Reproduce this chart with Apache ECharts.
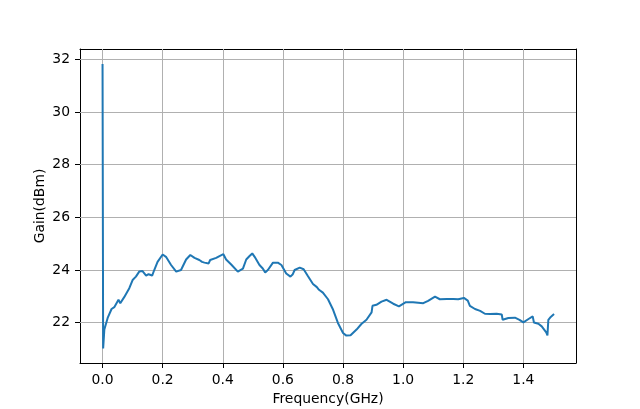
<!DOCTYPE html>
<html>
<head>
<meta charset="utf-8">
<script src="https://cdn.jsdelivr.net/npm/echarts@6/dist/echarts.min.js"></script>
<style>html,body{margin:0;padding:0;background:#fff}#c{width:640px;height:409px}</style>
</head>
<body>
<div id="c"></div>
<script>
const freq = [0,0.002,0.006,0.017,0.03,0.039,0.053,0.059,0.072,0.089,0.1,0.111,0.122,0.133,0.145,0.153,0.165,0.172,0.183,0.2,0.211,0.228,0.245,0.261,0.278,0.292,0.306,0.322,0.331,0.339,0.353,0.358,0.378,0.389,0.402,0.411,0.428,0.45,0.467,0.478,0.489,0.498,0.506,0.522,0.533,0.541,0.55,0.567,0.583,0.595,0.611,0.625,0.633,0.639,0.656,0.669,0.683,0.7,0.713,0.72,0.733,0.75,0.767,0.783,0.8,0.811,0.825,0.845,0.861,0.878,0.895,0.898,0.911,0.928,0.945,0.967,0.986,1.009,1.033,1.067,1.083,1.106,1.122,1.145,1.167,1.183,1.202,1.215,1.222,1.239,1.256,1.272,1.289,1.311,1.328,1.331,1.35,1.372,1.387,1.4,1.417,1.431,1.435,1.45,1.461,1.476,1.48,1.483,1.491,1.502];
const gain = [31.82,21.02,21.74,22.18,22.52,22.59,22.87,22.74,22.97,23.31,23.62,23.75,23.94,23.96,23.79,23.84,23.79,24.0,24.31,24.59,24.5,24.19,23.94,24.0,24.4,24.57,24.46,24.38,24.31,24.28,24.25,24.38,24.46,24.53,24.6,24.4,24.21,23.94,24.05,24.4,24.53,24.63,24.5,24.19,24.06,23.91,24.0,24.28,24.28,24.19,23.87,23.75,23.84,24.0,24.09,24.03,23.77,23.47,23.35,23.25,23.14,22.89,22.49,21.99,21.61,21.51,21.52,21.74,21.95,22.11,22.39,22.64,22.68,22.8,22.87,22.72,22.62,22.78,22.78,22.74,22.83,22.99,22.89,22.9,22.9,22.89,22.94,22.84,22.64,22.52,22.45,22.34,22.33,22.34,22.31,22.11,22.18,22.19,22.11,22.01,22.14,22.24,22.01,21.96,21.86,21.63,21.52,22.11,22.22,22.33];
const xTicks = [0,0.2,0.4,0.6,0.8,1.0,1.2,1.4];
const yTicks = [22,24,26,28,30,32];

const xMin = -0.075, xMax = 1.575, yMin = 20.47, yMax = 32.39;
const font = 'DejaVu Sans';
const fs = 13.9;
const gridColor = '#b0b0b0';

const chart = echarts.init(document.getElementById('c'), null, {renderer:'canvas'});
const xLines = xTicks.map(v => ({xAxis: v}));
const yLines = yTicks.map(v => ({yAxis: v}));
chart.setOption({
  animation: false,
  grid: {left: 80, right: 64, top: 49, bottom: 46, containLabel: false, outerBoundsMode: 'none'},
  xAxis: [{
    type: 'value', min: xMin, max: xMax, position: 'bottom',
    name: 'Frequency(GHz)', nameLocation: 'middle', nameGap: 29, nameMoveOverlap: false,
    nameTextStyle: {fontFamily: font, fontSize: fs, color: '#000'},
    axisLine: {show: true, onZero: false, lineStyle: {color: '#000', width: 1}},
    axisTick: {show: true, inside: false, length: 5, customValues: xTicks, lineStyle: {color: '#000', width: 1}},
    axisLabel: {show: true, margin: 10, customValues: xTicks, fontFamily: font, fontSize: fs, color: '#000',
      formatter: v => v.toFixed(1)},
    splitLine: {show: false}
  }, {
    type: 'value', min: xMin, max: xMax, position: 'top',
    axisLine: {show: true, onZero: false, lineStyle: {color: '#000', width: 1}},
    axisTick: {show: false}, axisLabel: {show: false}, splitLine: {show: false}
  }],
  yAxis: [{
    type: 'value', min: yMin, max: yMax, position: 'left',
    name: 'Gain(dBm)', nameLocation: 'middle', nameGap: 33, nameMoveOverlap: false,
    nameTextStyle: {fontFamily: font, fontSize: fs, color: '#000'},
    axisLine: {show: true, onZero: false, lineStyle: {color: '#000', width: 1}},
    axisTick: {show: true, inside: false, length: 5, customValues: yTicks, lineStyle: {color: '#000', width: 1}},
    axisLabel: {show: true, margin: 10, customValues: yTicks, fontFamily: font, fontSize: fs, color: '#000',
      formatter: v => String(Math.round(v))},
    splitLine: {show: false}
  }, {
    type: 'value', min: yMin, max: yMax, position: 'right',
    axisLine: {show: true, onZero: false, lineStyle: {color: '#000', width: 1}},
    axisTick: {show: false}, axisLabel: {show: false}, splitLine: {show: false}
  }],
  series: [{
    type: 'line',
    data: [],
    z: 1,
    markLine: {
      silent: true, symbol: ['none','none'], label: {show: false},
      lineStyle: {color: gridColor, width: 1, type: 'solid'},
      data: xLines.concat(yLines),
      animation: false
    }
  }, {
    type: 'line',
    data: freq.map((f, i) => [f, gain[i]]),
    showSymbol: false, symbol: 'none',
    lineStyle: {color: '#1f77b4', width: 2},
    z: 5
  }]
});
</script>
</body>
</html>
